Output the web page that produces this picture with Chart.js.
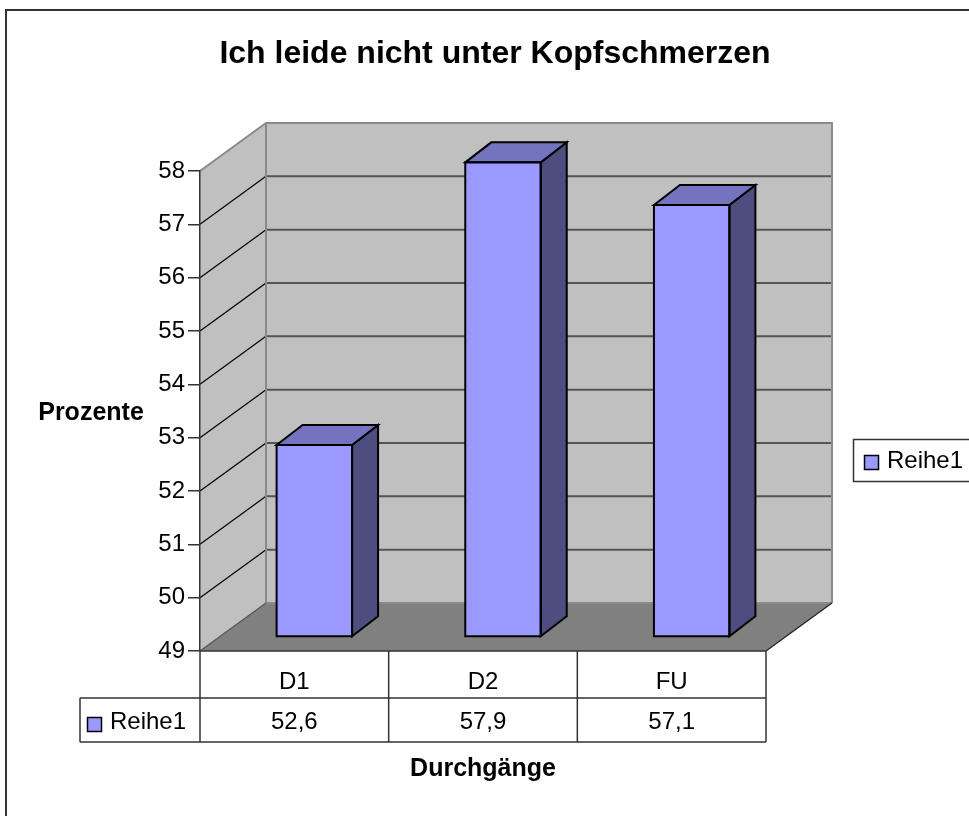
<!DOCTYPE html>
<html>
<head>
<meta charset="utf-8">
<script src="https://cdn.jsdelivr.net/npm/chart.js@4/dist/chart.umd.min.js"></script>
<style>
  html, body { margin: 0; padding: 0; background: #ffffff; }
  #wrap { width: 969px; height: 816px; position: relative; }
</style>
</head>
<body>
<div id="wrap"><canvas id="c" width="969" height="816"></canvas></div>
<script>
// ---- data ----
const categories = ['D1', 'D2', 'FU'];
const seriesName = 'Reihe1';
const seriesValues = [52.6, 57.9, 57.1];
const valueLabels = ['52,6', '57,9', '57,1'];
const yMin = 49;
const yMax = 58;
const yStep = 1;
const chartTitle = 'Ich leide nicht unter Kopfschmerzen';
const yTitle = 'Prozente';
const xTitle = 'Durchgänge';

const FONT = '"Liberation Sans", Arial, sans-serif';

// depth of the 3D box and of the bars
const WALL_DX = 66, WALL_DY = -48;
const BAR_DX = 20, BAR_DY = -14;
const BAR_DEPTH_X = 26, BAR_DEPTH_Y = -20;

const threeD = {
  id: 'threeD',
  beforeDraw(chart) {
    const ctx = chart.ctx;
    const y = chart.scales.y;
    const a = chart.chartArea;
    const L = a.left, R = a.right, B = y.getPixelForValue(yMin), T = y.getPixelForValue(yMax);
    ctx.save();
    // back wall
    ctx.fillStyle = '#c0c0c0';
    ctx.fillRect(L + WALL_DX, T + WALL_DY, R - L, B - T);
    // side wall
    ctx.beginPath();
    ctx.moveTo(L, T); ctx.lineTo(L + WALL_DX, T + WALL_DY);
    ctx.lineTo(L + WALL_DX, B + WALL_DY); ctx.lineTo(L, B); ctx.closePath();
    ctx.fill();
    // floor
    ctx.fillStyle = '#808080';
    ctx.beginPath();
    ctx.moveTo(L, B); ctx.lineTo(R, B); ctx.lineTo(R + WALL_DX, B + WALL_DY);
    ctx.lineTo(L + WALL_DX, B + WALL_DY); ctx.closePath();
    ctx.fill();
    // gridlines
    for (let v = yMin + yStep; v < yMax; v += yStep) {
      const p = y.getPixelForValue(v);
      ctx.strokeStyle = '#555555'; ctx.lineWidth = 2;
      ctx.beginPath(); ctx.moveTo(L + WALL_DX, p + WALL_DY); ctx.lineTo(R + WALL_DX, p + WALL_DY); ctx.stroke();
      ctx.strokeStyle = '#000000'; ctx.lineWidth = 1.2;
      ctx.beginPath(); ctx.moveTo(L, p); ctx.lineTo(L + WALL_DX, p + WALL_DY); ctx.stroke();
    }
    // wall edges
    ctx.strokeStyle = '#8a8a8a'; ctx.lineWidth = 2;
    ctx.beginPath();
    ctx.moveTo(L, T); ctx.lineTo(L + WALL_DX, T + WALL_DY); ctx.lineTo(R + WALL_DX, T + WALL_DY);
    ctx.lineTo(R + WALL_DX, B + WALL_DY);
    ctx.moveTo(L + WALL_DX, T + WALL_DY); ctx.lineTo(L + WALL_DX, B + WALL_DY); ctx.lineTo(R + WALL_DX, B + WALL_DY);
    ctx.stroke();
    ctx.strokeStyle = '#555555'; ctx.lineWidth = 1.2;
    ctx.beginPath(); ctx.moveTo(L, B); ctx.lineTo(L + WALL_DX, B + WALL_DY); ctx.stroke();
    ctx.strokeStyle = '#222222'; ctx.lineWidth = 1.2;
    ctx.beginPath(); ctx.moveTo(R, B); ctx.lineTo(R + WALL_DX, B + WALL_DY); ctx.stroke();
    ctx.restore();
  },
  beforeDatasetsDraw(chart) {
    chart.ctx.save();
    chart.ctx.translate(BAR_DX, BAR_DY);
  },
  afterDatasetsDraw(chart) {
    const ctx = chart.ctx;
    const meta = chart.getDatasetMeta(0);
    const floorPx = chart.scales.y.getPixelForValue(yMin);
    ctx.lineWidth = 2;
    ctx.strokeStyle = '#000000';
    ctx.lineJoin = 'miter';
    meta.data.forEach((bar) => {
      const p = bar.getProps(['x', 'y', 'base', 'width'], true);
      const base = Math.min(p.base, floorPx);
      const l = p.x - p.width / 2, r = p.x + p.width / 2;
      // side
      ctx.fillStyle = '#4d4d80';
      ctx.beginPath();
      ctx.moveTo(r, p.y); ctx.lineTo(r + BAR_DEPTH_X, p.y + BAR_DEPTH_Y);
      ctx.lineTo(r + BAR_DEPTH_X, base + BAR_DEPTH_Y); ctx.lineTo(r, base); ctx.closePath();
      ctx.fill(); ctx.stroke();
      // top
      ctx.fillStyle = '#7373bf';
      ctx.beginPath();
      ctx.moveTo(l, p.y); ctx.lineTo(l + BAR_DEPTH_X, p.y + BAR_DEPTH_Y);
      ctx.lineTo(r + BAR_DEPTH_X, p.y + BAR_DEPTH_Y); ctx.lineTo(r, p.y); ctx.closePath();
      ctx.fill(); ctx.stroke();
      // front outline
      ctx.strokeRect(l, p.y, p.width, base - p.y);
    });
    ctx.restore();
  },
  afterDraw(chart) {
    const ctx = chart.ctx;
    const x = chart.scales.x;
    const y = chart.scales.y;
    const a = chart.chartArea;
    const L = a.left, R = a.right, B = y.getPixelForValue(yMin);
    const rowMid = B + 47, rowBot = B + 91, keyLeft = 80;
    ctx.save();
    // front floor edge / table
    ctx.strokeStyle = '#333333'; ctx.lineWidth = 1.5;
    ctx.beginPath();
    ctx.moveTo(L, B); ctx.lineTo(R, B);
    ctx.moveTo(keyLeft, rowMid); ctx.lineTo(R, rowMid);
    ctx.moveTo(keyLeft, rowBot); ctx.lineTo(R, rowBot);
    ctx.moveTo(keyLeft, rowMid); ctx.lineTo(keyLeft, rowBot);
    const half = (x.getPixelForValue(1) - x.getPixelForValue(0)) / 2;
    ctx.moveTo(L, B); ctx.lineTo(L, rowBot);
    categories.forEach((c, i) => {
      const e = x.getPixelForValue(i) + half;
      ctx.moveTo(e, B); ctx.lineTo(e, rowBot);
    });
    ctx.stroke();
    // values row
    ctx.fillStyle = '#000000';
    ctx.font = '24px ' + FONT;
    ctx.textAlign = 'center'; ctx.textBaseline = 'middle';
    valueLabels.forEach((t, i) => ctx.fillText(t, x.getPixelForValue(i), rowMid + 24));
    // key cell
    ctx.fillStyle = '#9999ff';
    ctx.fillRect(87.5, 717.5, 14, 14);
    ctx.strokeStyle = '#000'; ctx.lineWidth = 1.5;
    ctx.strokeRect(87.5, 717.5, 14, 14);
    ctx.fillStyle = '#000';
    ctx.textAlign = 'left';
    ctx.fillText(seriesName, 110, rowMid + 24);
    // y title
    ctx.font = 'bold 25px ' + FONT;
    ctx.textAlign = 'center';
    ctx.fillText(yTitle, 91, 413);
    // legend
    ctx.strokeStyle = '#333'; ctx.lineWidth = 1.5;
    ctx.strokeRect(853.5, 439.5, 130, 42);
    ctx.fillStyle = '#9999ff';
    ctx.fillRect(864.5, 455.5, 14, 14);
    ctx.strokeStyle = '#000';
    ctx.strokeRect(864.5, 455.5, 14, 14);
    ctx.fillStyle = '#000';
    ctx.font = '24px ' + FONT;
    ctx.textAlign = 'left';
    ctx.fillText(seriesName, 887, 461);
    // outer border
    ctx.strokeStyle = '#333333'; ctx.lineWidth = 2;
    ctx.beginPath();
    ctx.moveTo(6, 830); ctx.lineTo(6, 10); ctx.lineTo(980, 10);
    ctx.stroke();
    ctx.restore();
  }
};

new Chart(document.getElementById('c'), {
  type: 'bar',
  data: {
    labels: categories,
    datasets: [{
      label: seriesName,
      data: seriesValues,
      base: yMin,
      backgroundColor: '#9999ff',
      borderColor: '#000000',
      borderWidth: 0,
      barPercentage: 0.4,
      categoryPercentage: 1.0
    }]
  },
  options: {
    responsive: false,
    animation: false,
    events: [],
    layout: { padding: { left: 21, right: 0, top: 0, bottom: 0 } },
    plugins: {
      legend: { display: false },
      tooltip: { enabled: false },
      title: {
        display: true,
        text: chartTitle,
        color: '#000000',
        font: { family: FONT, size: 32, weight: 'bold' },
        padding: { top: 35.3, bottom: 97.3 }
      }
    },
    scales: {
      x: {
        position: 'bottom',
        grid: { display: false },
        border: { display: false },
        ticks: { color: '#000000', font: { family: FONT, size: 24 }, padding: 9, maxRotation: 0 },
        title: { display: true, text: xTitle, color: '#000000', font: { family: FONT, size: 25, weight: 'bold' }, padding: { top: 0, bottom: 32 } },
        afterFit: (s) => { s.height = 165; }
      },
      y: {
        position: 'left',
        min: yMin,
        max: yMax,
        ticks: { stepSize: yStep, color: '#000000', font: { family: FONT, size: 24 }, padding: 3 },
        grid: { drawOnChartArea: false, drawTicks: true, tickLength: 12, color: '#333333', lineWidth: 1.5 },
        border: { display: true, color: '#333333', width: 1.5 },
        afterFit: (s) => { s.width = 179; }
      },
      y2: {
        position: 'right',
        display: true,
        min: 0, max: 1,
        grid: { display: false },
        border: { display: false },
        ticks: { display: false },
        afterFit: (s) => { s.width = 203; }
      }
    }
  },
  plugins: [threeD]
});
</script>
</body>
</html>
